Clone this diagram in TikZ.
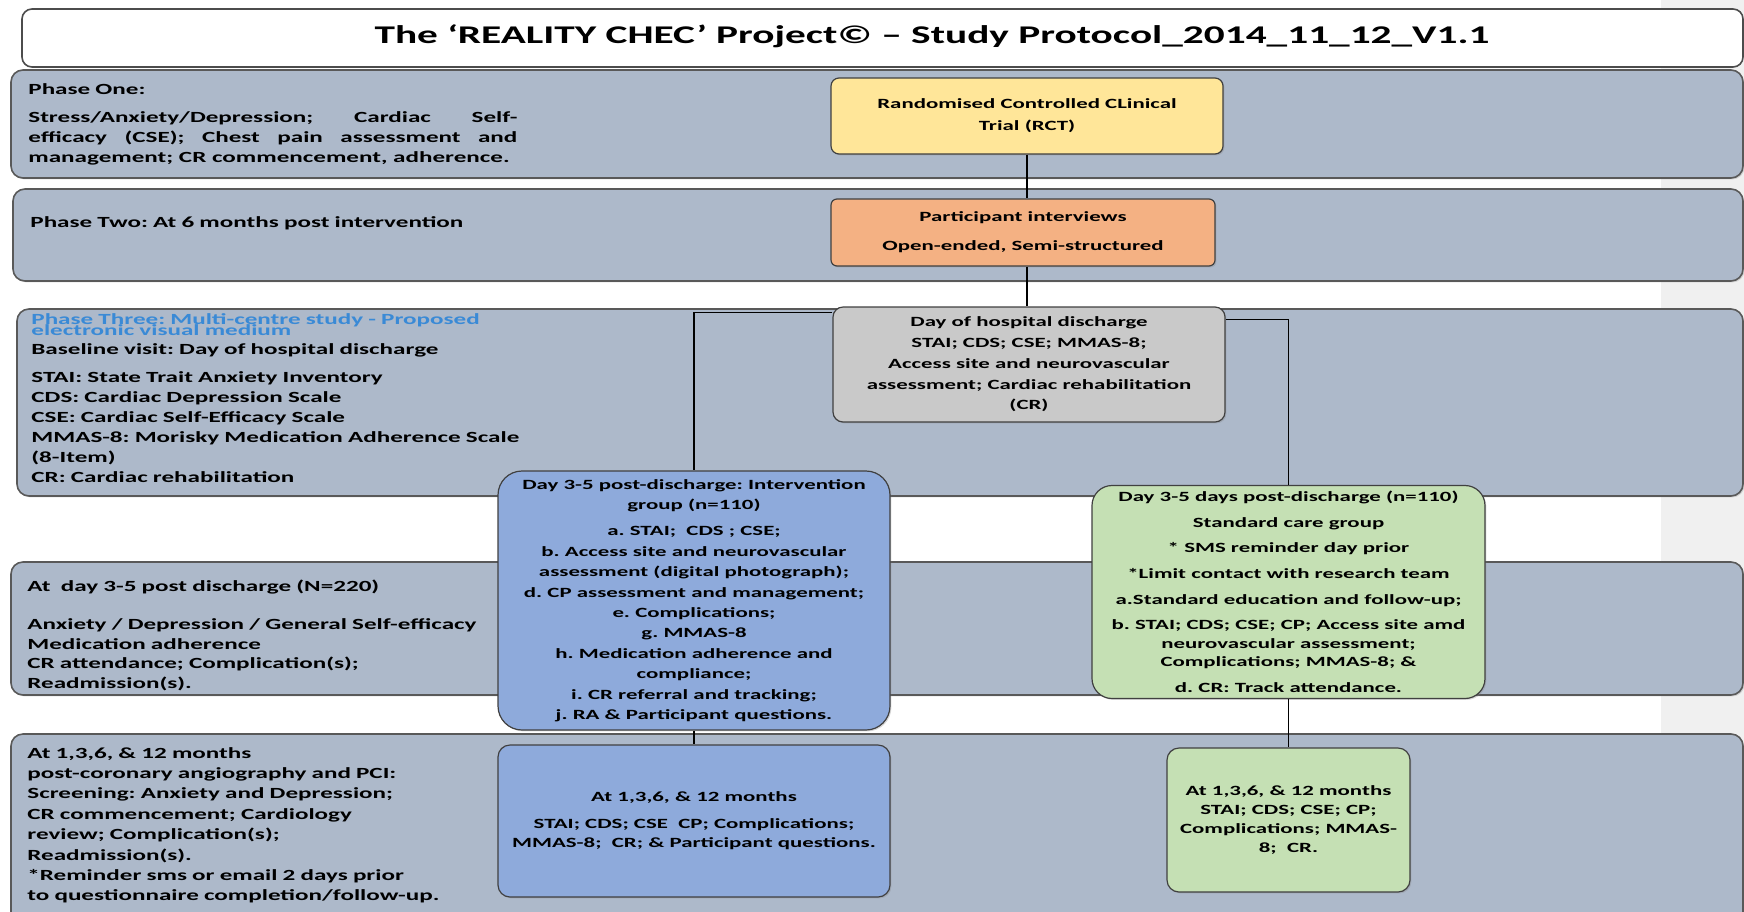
\documentclass[tikz,border=0pt]{standalone}
\usepackage{fontspec}
\setmainfont{Carlito}[FakeStretch=1.62]
\frenchspacing
\usetikzlibrary{shadows}
\newcommand\tightlines{\setlength{\lineskiplimit}{-20pt}}
\definecolor{bandgrey}{HTML}{ADB9CA}
\definecolor{stripgrey}{HTML}{F0F0F0}
\definecolor{rctyellow}{HTML}{FFE699}
\definecolor{ivworange}{HTML}{F4B183}
\definecolor{dischgrey}{HTML}{C9C9C9}
\definecolor{ivblue}{HTML}{8EAADB}
\definecolor{scgreen}{HTML}{C5E0B4}
\definecolor{phaseblue}{HTML}{3A8AD6}
\tikzset{
  softshadow/.style={drop shadow={shadow xshift=0.7pt,shadow yshift=-0.7pt,opacity=0.3}},
  band/.style={draw=black!65,line width=0.8pt,fill=bandgrey,rounded corners=6pt,softshadow},
  titlebox/.style={draw=black!70,line width=0.8pt,fill=white,rounded corners=5pt},
  lefttext/.style={anchor=base west,inner sep=0pt,text width=260pt,align=left,
    font=\fontsize{7.75}{10}\selectfont\bfseries},
  box/.style={draw=black!75,line width=0.6pt,rounded corners=#1,align=center,inner sep=0pt,
    font=\fontsize{7.05}{10}\selectfont\bfseries,softshadow},
  rctbox/.style={box=4pt,fill=rctyellow,minimum width=196pt,minimum height=38pt},
  ivwbox/.style={box=3pt,fill=ivworange,minimum width=192pt,minimum height=33.5pt},
  dischbox/.style={box=5pt,fill=dischgrey,minimum width=196pt,minimum height=57.5pt},
  ivbox/.style={box=#1,fill=ivblue},
  scbox/.style={box=#1,fill=scgreen},
  link/.style={draw=black,line width=0.9pt}
}

\begin{document}
\begin{tikzpicture}[x=0.5pt,y=-0.5pt]
      \useasboundingbox (0,0) rectangle (1744,911);
      \fill[stripgrey] (1661,0) rectangle (1744,911);
      \draw[titlebox] (22,9) rectangle (1743,67);
      \node[font=\fontsize{12.75}{15}\selectfont\bfseries] (title) at (932,36)
        {The ‘REALITY CHEC’ Project© – Study Protocol\_2014\_11\_12\_V1.1};

      \draw[band] (11,70) rectangle (1743,178);
      \draw[band] (13,189) rectangle (1743,281);
      \draw[band] (17,309) rectangle (1743,496);
      \draw[band] (11,562) rectangle (1743,695);
      \draw[band] (11,734) rectangle (1743,940);

      \node[lefttext] (phaseone) at (28,94) {Phase One:};
      \node[lefttext,text width=244.5pt,align=justify] (phaseonetext) at (28,122)
        {Stress/Anxiety/Depression; Cardiac Self-\linebreak
         efficacy (CSE); Chest pain assessment and\linebreak
         management; CR commencement, adherence.};
      \node[lefttext] (phasetwo) at (30,227) {Phase Two: At 6 months post intervention};
      \node[lefttext,text=phaseblue,
            font=\fontsize{7.75}{5.5}\selectfont\tightlines\bfseries] (phasethree) at (31,324)
        {Phase Three: Multi-centre study - Proposed\\electronic visual medium};
      \node[lefttext] (baseline) at (31,354)
        {Baseline visit: Day of hospital discharge\\[4pt]
         STAI: State Trait Anxiety Inventory\\
         CDS: Cardiac Depression Scale\\
         CSE: Cardiac Self-Efficacy Scale\\
         MMAS-8: Morisky Medication Adherence Scale\\
         (8-Item)\\
         CR: Cardiac rehabilitation};
      \node[lefttext,font=\fontsize{7.75}{9.75}\selectfont\bfseries] (dayfive) at (27,591)
        {At~ day 3-5 post discharge (N=220)\\[9.5pt]
         Anxiety / Depression / General Self-efficacy\\
         Medication adherence\\
         CR attendance; Complication(s);\\
         Readmission(s).};
      \node[lefttext,font=\fontsize{7.75}{10.2}\selectfont\bfseries] (months) at (27,758)
        {At 1,3,6, \& 12 months\\
         post-coronary angiography and PCI:\\
         Screening: Anxiety and Depression;\\
         CR commencement; Cardiology\\
         review; Complication(s);\\
         Readmission(s).\\
         {*}Reminder sms or email 2 days prior\\
         to questionnaire completion/follow-up.};

      \node[rctbox,font=\fontsize{7.05}{11}\selectfont\bfseries] (rct) at (1027,116)
        {Randomised Controlled CLinical\\Trial (RCT)};
      \node[ivwbox] (interview) at (1023,232.5)
        {Participant interviews\\[4.5pt]Open-ended, Semi-structured};
      \node[dischbox,font=\fontsize{7.05}{10.4}\selectfont\bfseries] (discharge) at (1029,364.5)
        {Day of hospital discharge\\
         STAI; CDS; CSE; MMAS-8;\\
         Access site and neurovascular\\
         assessment; Cardiac rehabilitation\\
         (CR)};
      \node[ivbox=12pt,minimum width=196pt,minimum height=129.5pt,
            font=\fontsize{7.05}{10.2}\selectfont\bfseries] (intervention) at (694,600.5)
        {Day 3-5 post-discharge: Intervention\\
         group (n=110)\\[3pt]
         a. STAI;~ CDS ; CSE;\\
         b. Access site and neurovascular\\
         assessment (digital photograph);\\
         d. CP assessment and management;\\
         e. Complications;\\
         g. MMAS-8\\
         h. Medication adherence and\\
         compliance;\\
         i. CR referral and tracking;\\
         j. RA \& Participant questions.};
      \node[scbox=10pt,minimum width=196.5pt,minimum height=106.5pt,
            font=\fontsize{7.05}{9.3}\selectfont\bfseries] (standard) at (1288.5,592)
        {Day 3-5 days post-discharge (n=110)\\[3.5pt]
         Standard care group\\[3.5pt]
         {*} SMS reminder day prior\\[3.5pt]
         {*}Limit contact with research team\\[3.5pt]
         a.Standard education and follow-up;\\[3.5pt]
         b. STAI; CDS; CSE; CP; Access site amd\\
         neurovascular assessment;\\
         Complications; MMAS-8; \&\\[3.5pt]
         d. CR: Track attendance.};
      \node[ivbox=6pt,minimum width=196pt,minimum height=76pt,
            font=\fontsize{7.05}{9.5}\selectfont\bfseries] (ivfollow) at (694,821)
        {At 1,3,6, \& 12 months\\[4pt]
         STAI; CDS; CSE~ CP; Complications;\\
         MMAS-8;~ CR; \& Participant questions.};
      \node[scbox=6pt,minimum width=121.5pt,minimum height=72pt,
            font=\fontsize{7.05}{9.5}\selectfont\bfseries] (scfollow) at (1288.5,820)
        {At 1,3,6, \& 12 months\\
         STAI; CDS; CSE; CP;\\
         Complications; MMAS-\\
         8;~ CR.};

      \draw[link] (rct.south) -- (rct.south |- interview.north);
      \draw[link] (rct.south |- interview.south) -- (rct.south |- discharge.north);
      \draw[link] ([yshift=-3pt]discharge.north west) -| (intervention.north);
      \draw[link] ([yshift=-6.5pt]discharge.north east) -| (standard.north);
      \draw[link] (intervention.south) -- (ivfollow.north);
      \draw[link] (standard.south) -- (scfollow.north);
\end{tikzpicture}
\end{document}
